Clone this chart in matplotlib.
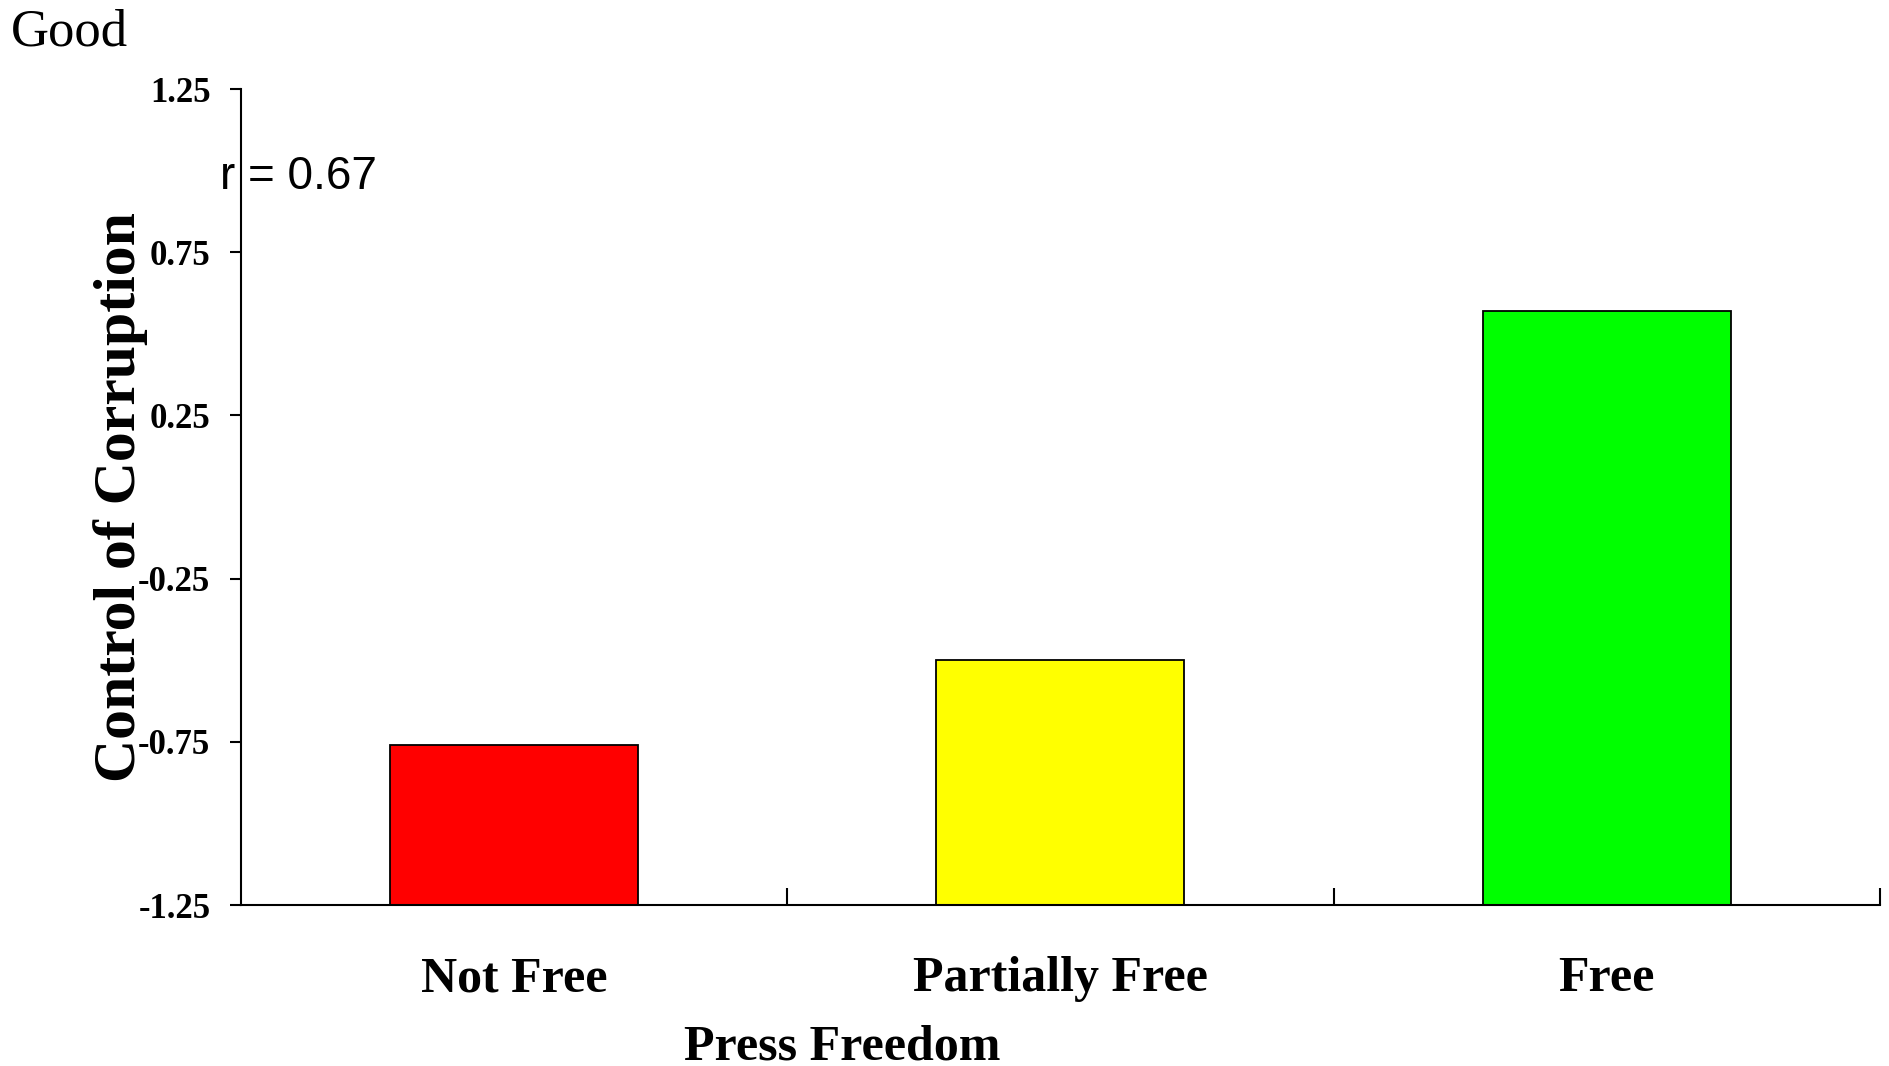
import matplotlib.pyplot as plt
from matplotlib.ticker import FixedLocator

categories = ["Not Free", "Partially Free", "Free"]
values = [-0.76, -0.50, 0.57]
colors = ["#ff0000", "#ffff00", "#00ff00"]
yticks = [-1.25, -0.75, -0.25, 0.25, 0.75, 1.25]
ytick_labels = ["-1.25", "-0.75", "-0.25", "0.25", "0.75", "1.25"]

serif = "Liberation Serif"

fig = plt.figure(figsize=(18.89, 10.66), dpi=100)
ax = fig.add_axes([0.1276, 0.151, 0.8676, 0.7655])

base = -1.25
x = range(len(categories))
ax.bar(x, [v - base for v in values], bottom=base, width=0.454,
       color=colors, edgecolor="black", linewidth=1.3, zorder=2)

ax.set_xlim(-0.5, 2.5)
ax.set_ylim(-1.25, 1.25)

ax.spines["top"].set_visible(False)
ax.spines["right"].set_visible(False)
ax.spines["left"].set_linewidth(1.5)
ax.spines["bottom"].set_linewidth(1.5)

ax.set_yticks(yticks)
ax.set_yticklabels(ytick_labels, fontfamily=serif, fontweight="bold", fontsize=25)
ax.tick_params(axis="y", direction="out", length=8, width=1.5, pad=14)

ax.set_xticks(list(x))
ax.set_xticklabels(categories, fontfamily=serif, fontweight="bold", fontsize=36)
ax.xaxis.set_minor_locator(FixedLocator([0.5, 1.5, 2.5]))
ax.tick_params(axis="x", which="major", direction="in", length=9, width=1.5, pad=37)
ax.tick_params(axis="x", which="minor", direction="in", length=12, width=1.5)

ax.set_ylabel("Control of Corruption", fontfamily=serif, fontweight="bold", fontsize=43)
ax.yaxis.set_label_coords(-0.057, 0.5)

fig.text(842 / 1889, 1 - 1048 / 1066, "Press Freedom", fontfamily=serif,
         fontweight="bold", fontsize=36, ha="center", va="center")
fig.text(11 / 1889, 1 - 45 / 1066, "Good", fontfamily=serif, fontsize=38,
         ha="left", va="baseline")
ax.text(220 / 1889, 1 - 189 / 1066, "r = 0.67", transform=fig.transFigure,
        fontfamily="Liberation Sans", fontsize=33, ha="left", va="baseline",
        zorder=1)

fig.savefig("out.png", dpi=100)
